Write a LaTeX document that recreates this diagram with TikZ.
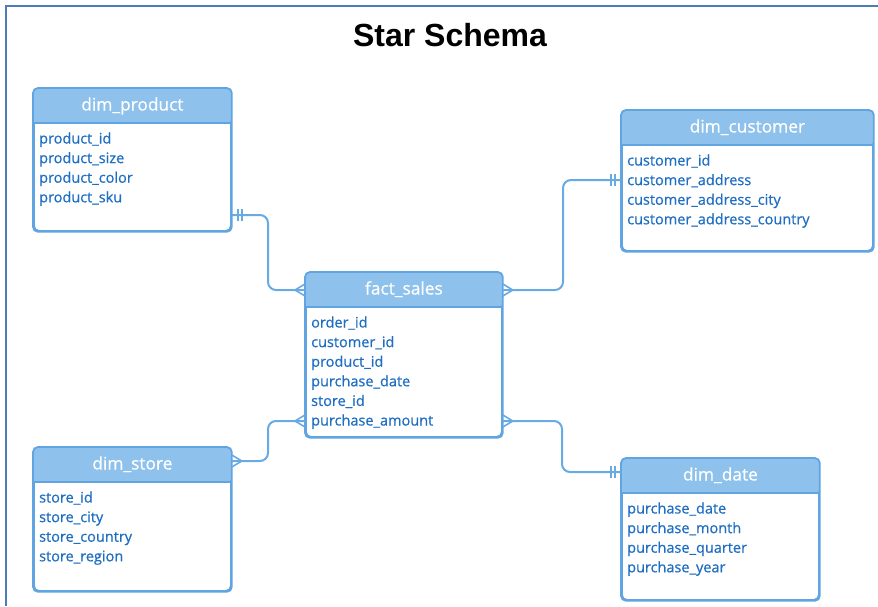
\documentclass[tikz,border=0pt]{standalone}
\usepackage{fontspec}
\setmainfont{Open Sans}
\newfontfamily\fieldfont{Open Sans}[FakeBold=0.6]
\newfontfamily\titlefont{Liberation Sans}
\usetikzlibrary{calc}
\definecolor{frameblue}{RGB}{74,126,187}
\definecolor{hdrfill}{RGB}{142,194,236}
\definecolor{tblline}{RGB}{96,165,226}
\definecolor{fieldtxt}{RGB}{30,110,195}
\definecolor{connline}{RGB}{104,170,228}

\tikzset{
  tbl/.style={draw=tblline, line width=1.8pt, rounded corners=5pt, fill=white,
    anchor=north west, inner sep=0pt},
  hdr/.style={fill=hdrfill},
  hdrtext/.style={text=white, font=\fieldfont\fontsize{17.3}{20}\selectfont, anchor=base, inner sep=0pt},
  fld/.style={text=fieldtxt, font=\fieldfont\fontsize{14.5}{16}\selectfont, anchor=base west, inner sep=0pt},
  conn/.style={draw=connline, line width=2pt, rounded corners=8pt},
  endmark/.style={draw=connline, line width=1.6pt},
}

% entity table: #1 name, #2 left, #3 top, #4 width, #5 height, #6 title
\newcommand{\erdtable}[6]{%
  \node[tbl, minimum width=#4pt, minimum height=#5pt] (#1) at (#2pt,-#3pt) {};
  \fill[hdr, rounded corners=5pt] ($(#1.north west)+(0,-35pt)$) -- (#1.north west)
      -- (#1.north east) -- ($(#1.north east)+(0,-35pt)$) [sharp corners] -- cycle;
  \draw[draw=tblline, line width=1.8pt, rounded corners=5pt] (#1.north west) rectangle (#1.south east);
  \draw[draw=tblline, line width=1.6pt] ($(#1.north west)+(0,-35pt)$) -- ($(#1.north east)+(0,-35pt)$);
  \node[hdrtext] (#1-title) at ($(#1.north)+(0,-22.5pt)$) {#6};
}
% field list of table #1
\newcommand{\erdfields}[2]{%
  \foreach \f [count=\i] in {#2} {
    \node[fld] (#1-f\i) at ($(#1.north west)+(6pt,-55.5pt-19.6pt*\i+19.6pt)$) {\f};
  }
}
% crow's foot at point #1 (on a box edge), pointing outward by direction #2 (+1 right, -1 left)
\newcommand{\crowfoot}[2]{%
  \draw[endmark] ($(#1)+(#2*10pt,0)$) -- ($(#1)+(0,6pt)$);
  \draw[endmark] ($(#1)+(#2*10pt,0)$) -- ($(#1)+(0,-6pt)$);
}
% mandatory-one bars next to point #1, on side #2
\newcommand{\onebars}[2]{%
  \draw[endmark] ($(#1)+(#2*6pt,6pt)$) -- ($(#1)+(#2*6pt,-6pt)$);
  \draw[endmark] ($(#1)+(#2*10pt,6pt)$) -- ($(#1)+(#2*10pt,-6pt)$);
}

\begin{document}
\begin{tikzpicture}[x=1pt,y=1pt]
\useasboundingbox (0,0) rectangle (878,-606);

% outer frame (open at right and bottom)
\draw[frameblue, line width=1.2pt] (6,-606) -- (6,-6) -- (878,-6);

\node[font=\titlefont\bfseries\fontsize{32}{36}\selectfont, anchor=base, inner sep=0pt]
  (title) at (450,-46) {Star Schema};

\erdtable{prod}{33}{88}{197}{142}{dim\_product}
\erdfields{prod}{product\_id, product\_size, product\_color, product\_sku}

\erdtable{cust}{621}{110}{251}{140}{dim\_customer}
\erdfields{cust}{customer\_id, customer\_address, customer\_address\_city, customer\_address\_country}

\erdtable{fact}{305}{272}{196}{164}{fact\_sales}
\erdfields{fact}{order\_id, customer\_id, product\_id, purchase\_date, store\_id, purchase\_amount}

\erdtable{store}{33}{447}{197}{143}{dim\_store}
\erdfields{store}{store\_id, store\_city, store\_country, store\_region}

\erdtable{date}{621}{458}{197}{141}{dim\_date}
\erdfields{date}{purchase\_date, purchase\_month, purchase\_quarter, purchase\_year}

% connector end points on the table edges
\coordinate (pe) at ($(prod.north east)+(0,-127pt)$);
\coordinate (fl1) at ($(fact.north west)+(0,-18pt)$);
\coordinate (fr1) at ($(fact.north east)+(0,-18pt)$);
\coordinate (ce) at ($(cust.north west)+(0,-70pt)$);
\coordinate (fl2) at ($(fact.north west)+(0,-149pt)$);
\coordinate (fr2) at ($(fact.north east)+(0,-149pt)$);
\coordinate (se) at ($(store.north east)+(0,-14pt)$);
\coordinate (de) at ($(date.north west)+(0,-14pt)$);

\draw[conn] (pe) -- (268,-215) -- (268,-290) -- (fl1);
\draw[conn] (ce) -- (563,-180) -- (563,-290) -- (fr1);
\draw[conn] (fl2) -- (268,-421) -- (268,-461) -- (se);
\draw[conn] (fr2) -- (562,-421) -- (562,-472) -- (de);

\onebars{pe}{1}
\crowfoot{fl1}{-1}
\onebars{ce}{-1}
\crowfoot{fr1}{1}
\crowfoot{fl2}{-1}
\crowfoot{se}{1}
\crowfoot{fr2}{1}
\onebars{de}{-1}
\end{tikzpicture}
\end{document}
